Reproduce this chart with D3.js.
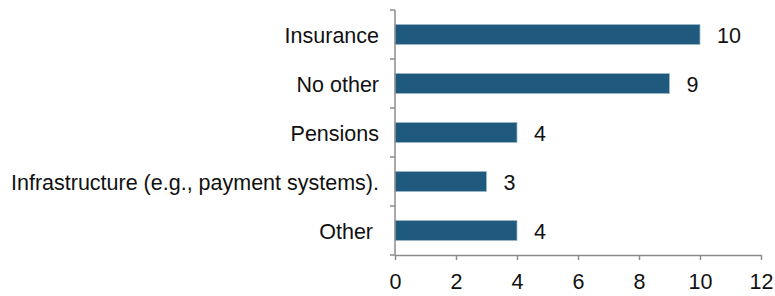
<!DOCTYPE html>
<html>
<head>
<meta charset="utf-8">
<script src="https://cdn.jsdelivr.net/npm/d3@7"></script>
<style>
    body { margin: 0; background: #fff; }
    text { font-family: "Liberation Sans", Arial, sans-serif; fill: #111; }
</style>
</head>
<body>
<div id="chart"></div>
<script>
// categories, top to bottom
var categories = ["Insurance", "No other", "Pensions", "Infrastructure (e.g., payment systems).", "Other "];
var values = [10, 9, 4, 3, 4];
var xTicks = [0, 2, 4, 6, 8, 10, 12];

var width = 775, height = 296;
var axisColor = "#8c8c8c";
var fontSize = 21.5;

var svg = d3.select("#chart").append("svg")
    .attr("width", width)
    .attr("height", height);

// scales
var x = d3.scaleLinear().domain([0, 12]).range([395, 761]);
var y = d3.scaleBand().domain(categories).range([10, 255])
    .paddingInner(0.59).paddingOuter(0.295);

// bars
svg.selectAll("rect.bar")
    .data(values)
    .enter().append("rect")
    .attr("class", "bar")
    .attr("x", x(0))
    .attr("y", function(d, i) { return y(categories[i]); })
    .attr("width", function(d) { return x(d) - x(0); })
    .attr("height", y.bandwidth())
    .attr("fill", "#1f5a7e")
    .attr("stroke", "#9fb8ca")
    .attr("stroke-width", 0.8);

// value labels
svg.selectAll("text.val")
    .data(values)
    .enter().append("text")
    .attr("class", "val")
    .attr("x", function(d) { return x(d) + 17; })
    .attr("y", function(d, i) { return y(categories[i]) + y.bandwidth() / 2 + 8.5; })
    .attr("font-size", fontSize)
    .text(function(d) { return d; });

// category labels
svg.selectAll("text.cat")
    .data(categories)
    .enter().append("text")
    .attr("class", "cat")
    .attr("x", 379)
    .attr("y", function(d) { return y(d) + y.bandwidth() / 2 + 8.5; })
    .attr("text-anchor", "end")
    .attr("font-size", fontSize)
    .style("white-space", "pre")
    .text(function(d) { return d; });

// y axis: line plus ticks at band boundaries
var yRange = y.range();
svg.append("line")
    .attr("x1", x(0)).attr("x2", x(0))
    .attr("y1", yRange[0]).attr("y2", yRange[1])
    .attr("stroke", axisColor).attr("stroke-width", 1.5);

var bounds = d3.range(categories.length + 1).map(function(i) { return yRange[0] + i * y.step(); });
svg.selectAll("line.ytick")
    .data(bounds)
    .enter().append("line")
    .attr("class", "ytick")
    .attr("x1", x(0) - 5).attr("x2", x(0))
    .attr("y1", function(d) { return d; }).attr("y2", function(d) { return d; })
    .attr("stroke", axisColor).attr("stroke-width", 1.5);

// x axis
var xAxis = svg.append("g")
    .attr("transform", "translate(0," + yRange[1] + ")")
    .call(d3.axisBottom(x).tickValues(xTicks).tickSize(5).tickSizeOuter(0).tickPadding(14));

xAxis.select(".domain").attr("stroke", axisColor).attr("stroke-width", 1.5);
xAxis.selectAll(".tick line").attr("stroke", axisColor).attr("stroke-width", 1.5);
xAxis.selectAll(".tick text")
    .attr("font-size", fontSize)
    .attr("font-family", "Liberation Sans, Arial, sans-serif")
    .attr("fill", "#111");
</script>
</body>
</html>
